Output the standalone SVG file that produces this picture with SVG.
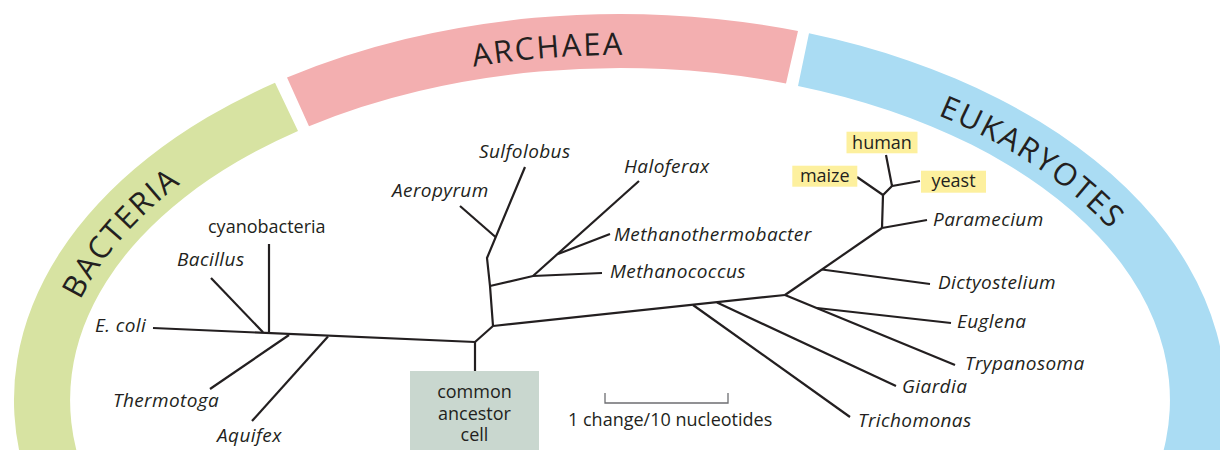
<svg xmlns="http://www.w3.org/2000/svg" width="1220" height="450" viewBox="0 0 1220 450">
  <defs>
    <style>
      text { font-family: "Open Sans", "Liberation Sans", sans-serif; fill: #231f20; }
      .lbl { font-size: 18px; }
      .it { font-style: italic; font-size: 19px; letter-spacing: 0.4px; }
      .band-lbl { font-size: 31px; letter-spacing: 2px; }
      .br { fill: none; stroke: #231f20; stroke-width: 2.2; stroke-linecap: butt; stroke-linejoin: miter; }
      .hl { fill: #fdf09e; }
      .scale { fill: none; stroke: #6d6e71; stroke-width: 1.3; }
    </style>
    <path id="p-bact" d="M 56.1,394 A 564 345 0 0 1 265.1,131.9"/>
    <path id="p-arch" d="M 315.3,109.7 A 564 345 0 0 1 787.7,70.6"/>
    <path id="p-euk" d="M 851.2,85.3 A 564 345 0 0 1 1162.7,306.1"/>
  </defs>

  <g id="band-bacteria">
    <path d="M 24,470 A 606 386 0 0 1 275,82.7 L 298,131 A 550 332 0 0 0 82.4,470 Z" fill="#d7e3a2"/>
    <text class="band-lbl"><textPath href="#p-bact" startOffset="50%" text-anchor="middle">BACTERIA</textPath></text>
  </g>
  <g id="band-archaea">
    <path d="M 287,77.5 A 606 386 0 0 1 798,31 L 786,83.5 A 550 332 0 0 0 309,126.2 Z" fill="#f3afb0"/>
    <text class="band-lbl"><textPath href="#p-arch" startOffset="50%" text-anchor="middle">ARCHAEA</textPath></text>
  </g>
  <g id="band-eukaryotes">
    <path d="M 809,33.3 A 606 386 0 0 1 1215.9,470 L 1157.6,470 A 550 332 0 0 0 798,85.9 Z" fill="#aadcf3"/>
    <text class="band-lbl"><textPath href="#p-euk" startOffset="50%" text-anchor="middle">EUKARYOTES</textPath></text>
  </g>

  <g id="connectors">
    <!-- bacteria -->
    <path class="br" d="M153,328 L475,342"/>
    <path class="br" d="M269,244 L269,333"/>
    <path class="br" d="M211,278 L263,332.3"/>
    <path class="br" d="M210,389 L289,335"/>
    <path class="br" d="M252,421 L328,336.6"/>
    <path class="br" d="M475,342 L475,371"/>
    <path class="br" d="M475,342 L493,326"/>
    <!-- archaea -->
    <path class="br" d="M493,326 L490,286 L487,258 L525,167"/>
    <path class="br" d="M495.5,237 L460,206"/>
    <path class="br" d="M490,286 L533,276 L602,273"/>
    <path class="br" d="M533,276 L639,181"/>
    <path class="br" d="M558,254 L610,234"/>
    <!-- eukaryotes -->
    <path class="br" d="M493,326 L785,295"/>
    <path class="br" d="M693,305 L850,417"/>
    <path class="br" d="M717,302.5 L896,386"/>
    <path class="br" d="M785,295 L955,365"/>
    <path class="br" d="M817,308 L951,323"/>
    <path class="br" d="M785,295 L882,228"/>
    <path class="br" d="M822,269.5 L930,284"/>
    <path class="br" d="M882,228 L927,220"/>
    <path class="br" d="M882,228 L883,195"/>
    <path class="br" d="M857,177 L883,195 L892,186"/>
    <path class="br" d="M886,155 L892,186 L920,181"/>
  </g>

  <g id="node-ecoli"><text class="lbl it" x="95" y="332">E. coli</text></g>
  <g id="node-bacillus"><text class="lbl it" x="177" y="265.5">Bacillus</text></g>
  <g id="node-cyanobacteria"><text class="lbl" x="208" y="233">cyanobacteria</text></g>
  <g id="node-thermotoga"><text class="lbl it" x="113" y="407">Thermotoga</text></g>
  <g id="node-aquifex"><text class="lbl it" x="217" y="441.5">Aquifex</text></g>

  <g id="node-common-ancestor">
    <rect x="410" y="371" width="129" height="82" fill="#c9d7cf"/>
    <text class="lbl" x="474.5" y="398" text-anchor="middle">common</text>
    <text class="lbl" x="474.5" y="419.5" text-anchor="middle">ancestor</text>
    <text class="lbl" x="474.5" y="441" text-anchor="middle">cell</text>
  </g>

  <g id="node-aeropyrum"><text class="lbl it" x="392" y="197">Aeropyrum</text></g>
  <g id="node-sulfolobus"><text class="lbl it" x="479" y="158">Sulfolobus</text></g>
  <g id="node-haloferax"><text class="lbl it" x="624" y="173.3">Haloferax</text></g>
  <g id="node-methanothermobacter"><text class="lbl it" x="614" y="241">Methanothermobacter</text></g>
  <g id="node-methanococcus"><text class="lbl it" x="610" y="278">Methanococcus</text></g>

  <g id="node-human">
    <rect class="hl" x="846.5" y="131.7" width="71" height="21.6"/>
    <text class="lbl" x="882" y="149.3" text-anchor="middle">human</text>
  </g>
  <g id="node-maize">
    <rect class="hl" x="792.3" y="165.7" width="65" height="21"/>
    <text class="lbl" x="824.8" y="181.7" text-anchor="middle">maize</text>
  </g>
  <g id="node-yeast">
    <rect class="hl" x="921" y="170.7" width="65" height="22"/>
    <text class="lbl" x="953.5" y="186.7" text-anchor="middle">yeast</text>
  </g>
  <g id="node-paramecium"><text class="lbl it" x="933" y="226">Paramecium</text></g>
  <g id="node-dictyostelium"><text class="lbl it" x="938" y="289">Dictyostelium</text></g>
  <g id="node-euglena"><text class="lbl it" x="957" y="328">Euglena</text></g>
  <g id="node-trypanosoma"><text class="lbl it" x="965" y="370">Trypanosoma</text></g>
  <g id="node-giardia"><text class="lbl it" x="902" y="393.3">Giardia</text></g>
  <g id="node-trichomonas"><text class="lbl it" x="858" y="427.3">Trichomonas</text></g>

  <g id="scale-bar">
    <path class="scale" d="M605,393 V403 H728 V393"/>
    <text class="lbl" x="568" y="426">1 change/10 nucleotides</text>
  </g>
</svg>
